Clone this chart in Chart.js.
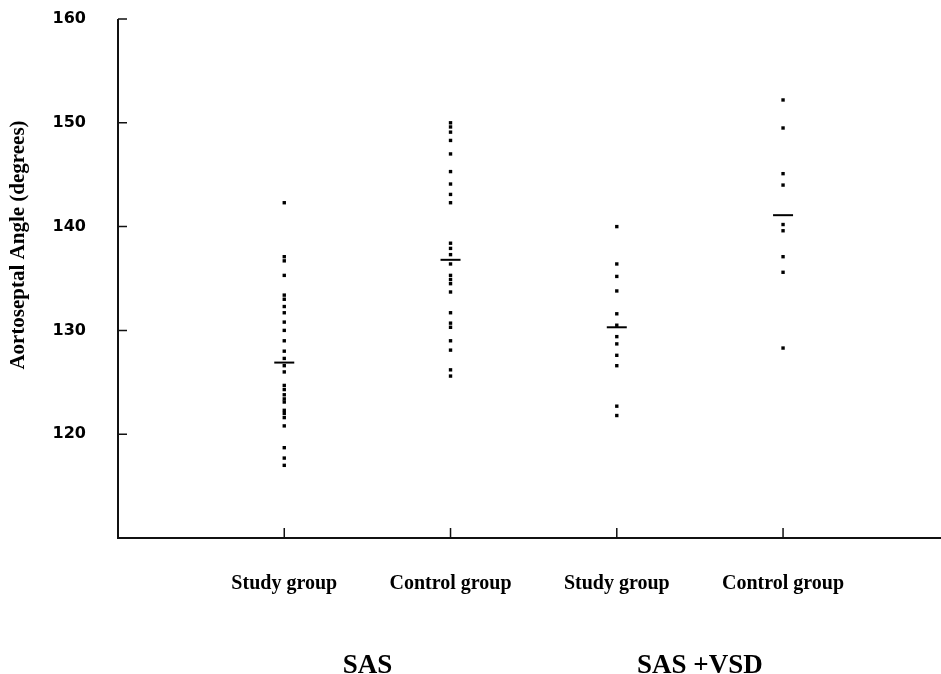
<!DOCTYPE html>
<html>
<head>
<meta charset="utf-8">
<script src="https://cdn.jsdelivr.net/npm/chart.js@4.4.1/dist/chart.umd.min.js"></script>
<style>
  html, body { margin: 0; padding: 0; background: #fff; }
  #wrap { width: 941px; height: 674px; position: relative; }
</style>
</head>
<body>
<div id="wrap"><canvas id="angleChart"></canvas></div>
<script>
// =====================
// DATA
// =====================
const categories = ["Study group", "Control group", "Study group", "Control group"];
const groupLabels = ["SAS", "SAS +VSD"];
const yTicks = [120, 130, 140, 150, 160];

const sasStudy = [142.3, 137.1, 136.7, 135.3, 133.4, 133.0, 132.3, 131.7, 130.8, 130.0,
  129.0, 128.0, 127.3, 126.6, 126.0, 124.7, 124.3, 123.8, 123.4, 123.1,
  122.3, 122.0, 121.6, 120.8, 118.7, 117.7, 117.0];
const sasControl = [150.0, 149.6, 149.1, 148.3, 147.0, 145.3, 144.1, 143.1, 142.3, 138.4,
  137.9, 137.3, 136.4, 135.3, 134.9, 134.5, 133.7, 131.7, 130.7, 130.3,
  129.0, 128.1, 126.2, 125.6];
const vsdStudy = [140.0, 136.4, 135.2, 133.8, 131.6, 130.5, 129.4, 128.7, 127.6, 126.6, 122.7, 121.8];
const vsdControl = [152.2, 149.5, 145.1, 144.0, 140.2, 139.6, 137.1, 135.6, 128.3];
const means = [126.9, 136.8, 130.3, 141.1];

const groups = [sasStudy, sasControl, vsdStudy, vsdControl];

// =====================
// DATASETS
// =====================
const datasets = groups.map((vals, i) => ({
  data: vals.map(v => ({ x: i + 1, y: v })),
  pointStyle: "rect",
  pointRadius: 2.4,
  backgroundColor: "#000",
  borderColor: "#000",
  borderWidth: 0,
  showLine: false
}));

// group means as short horizontal bars
datasets.push({
  data: means.map((m, i) => ({ x: i + 1, y: m })),
  pointStyle: "line",
  pointRadius: 10,
  borderColor: "#000",
  borderWidth: 2,
  showLine: false
});

// axes, inward ticks, labels and y title
const axesPlugin = {
  id: "axesPlugin",
  afterDraw(chart) {
    const ctx = chart.ctx;
    const xs = chart.scales.x;
    const ys = chart.scales.y;
    const area = chart.chartArea;
    ctx.save();
    ctx.strokeStyle = "#111";
    ctx.lineWidth = 2;
    ctx.beginPath();
    ctx.moveTo(area.left, area.top);
    ctx.lineTo(area.left, area.bottom);
    ctx.lineTo(area.right, area.bottom);
    ctx.stroke();

    ctx.lineWidth = 1.5;
    ctx.beginPath();
    yTicks.forEach(t => {
      const py = ys.getPixelForValue(t);
      ctx.moveTo(area.left, py);
      ctx.lineTo(area.left + 9, py);
    });
    categories.forEach((c, i) => {
      const px = xs.getPixelForValue(i + 1);
      ctx.moveTo(px, area.bottom);
      ctx.lineTo(px, area.bottom - 10);
    });
    ctx.stroke();

    ctx.fillStyle = "#000";
    ctx.textBaseline = "middle";

    // y tick labels
    ctx.textAlign = "right";
    ctx.font = "bold 16px 'DejaVu Sans', sans-serif";
    yTicks.forEach(t => {
      ctx.fillText(String(t), 86, ys.getPixelForValue(t));
    });

    // category labels
    ctx.textAlign = "center";
    ctx.font = "bold 20px 'Liberation Serif', serif";
    categories.forEach((c, i) => {
      ctx.fillText(c, xs.getPixelForValue(i + 1), 584);
    });

    // group labels
    ctx.font = "bold 27px 'Liberation Serif', serif";
    groupLabels.forEach((g, i) => {
      ctx.fillText(g, xs.getPixelForValue(i * 2 + 1.5), 666);
    });

    // y axis title
    ctx.translate(19, 245);
    ctx.rotate(-Math.PI / 2);
    ctx.font = "bold 21px 'Liberation Serif', serif";
    ctx.fillText("Aortoseptal Angle (degrees)", 0, 0);
    ctx.restore();
  }
};

// =====================
// CHART
// =====================
new Chart(document.getElementById("angleChart"), {
  type: "scatter",
  data: { datasets: datasets },
  options: {
    responsive: true,
    maintainAspectRatio: false,
    animation: false,
    layout: {
      autoPadding: false,
      padding: { top: 19, right: 0, bottom: 136, left: 118 }
    },
    plugins: {
      legend: { display: false },
      tooltip: { enabled: false }
    },
    scales: {
      x: { type: "linear", min: 0, max: 4.95, display: false },
      y: { type: "linear", min: 110, max: 160, display: false }
    }
  },
  plugins: [axesPlugin]
});
</script>
</body>
</html>
